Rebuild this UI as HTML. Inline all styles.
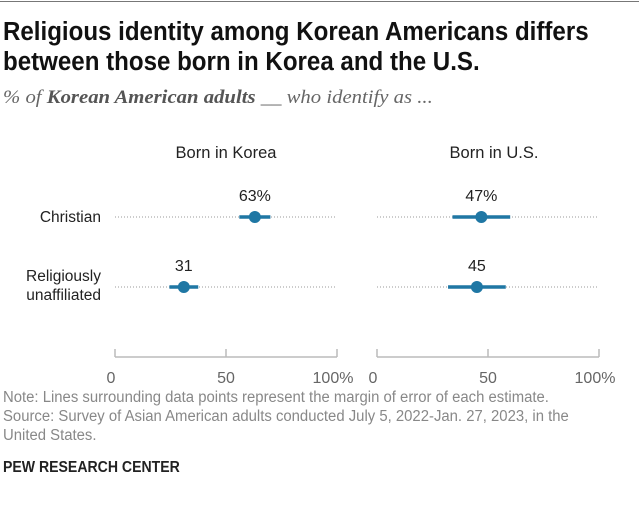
<!DOCTYPE html>
<html><head><meta charset="utf-8"><style>
body{margin:0;background:#fff;width:639px;height:505px;overflow:hidden;font-family:"Liberation Sans",sans-serif;position:relative}
.t{position:absolute;white-space:nowrap;transform-origin:0 0}
</style></head><body>
<div style="position:absolute;left:0;top:1px;width:639px;height:1px;background:#777"></div>
<div class="t" style="left:3px;top:17px;transform:scaleX(0.945);font-weight:bold;font-size:25.5px;line-height:30px;color:#111">Religious identity among Korean Americans differs<br>between those born in Korea and the U.S.</div>
<div class="t" style="left:3px;top:88px;transform:scaleX(1.12);font-family:'Liberation Serif',serif;font-style:italic;font-size:18.5px;color:#666">% of <b style="color:#555">Korean American adults</b> __ who identify as ...</div>
<svg width="639" height="505" style="position:absolute;left:0;top:0" font-family="Liberation Sans, sans-serif">
<g id="g"></g>
</svg>
<div class="t" style="left:3px;top:388px;transform:scaleX(0.96);font-size:15.5px;line-height:19px;color:#888">Note: Lines surrounding data points represent the margin of error of each estimate.<br>Source: Survey of Asian American adults conducted July 5, 2022-Jan. 27, 2023, in the<br>United States.</div>
<div class="t" style="left:3px;top:459px;transform:scaleX(0.88);font-size:16px;font-weight:bold;color:#222">PEW RESEARCH CENTER</div>
<script>
const categories=["Christian","Religiously unaffiliated"];
const panels=["Born in Korea","Born in U.S."];
const korea=[63,31];
const us=[47,45];
const koreaMoe=[7,6.5];
const usMoe=[13,13];
const labelsKorea=["63%","31"];
const labelsUs=["47%","45"];
const ticks=[0,50,100];
const tickLabels=["0","50","100%"];
const NS="http://www.w3.org/2000/svg";
const g=document.getElementById('g');
function el(t,a,txt){const e=document.createElementNS(NS,t);for(const k in a)e.setAttribute(k,a[k]);if(txt!=null)e.textContent=txt;g.appendChild(e);return e;}
const panelX=[115,377],W=222;
const titleX=[226,494];
const rowY=[217,287];
const axisY=357;
const vals=[korea,us],moes=[koreaMoe,usMoe],labs=[labelsKorea,labelsUs];
panels.forEach((p,pi)=>{
  const x=v=>panelX[pi]+v/100*W;
  const h=el('text',{x:titleX[pi],y:158,'text-anchor':'middle','font-size':16.5,fill:'#222'},p);
  
  
  const ax=el('line',{x1:x(0),x2:x(100),y1:axisY,y2:axisY,stroke:'#bbb','stroke-width':1.5});
  
  
  ticks.forEach((t,ti)=>{
    el('line',{x1:x(t),x2:x(t),y1:axisY-8,y2:axisY,stroke:'#bbb','stroke-width':1.5});
    const tl=el('text',{x:x(t)+(ti==2?-4:(ti==0?-4:0)),y:axisY+26,'text-anchor':'middle','font-size':16,fill:'#666'},tickLabels[ti]);
    
    
  });
  categories.forEach((c,ci)=>{
    const y=rowY[ci],v=vals[pi][ci],m=moes[pi][ci];
    el('line',{x1:x(0),x2:x(100),y1:y,y2:y,stroke:'#999','stroke-width':1,'stroke-dasharray':'1 2'});
    const b=el('line',{x1:x(v-m),x2:x(v+m),y1:y,y2:y,stroke:'#1f77a4','stroke-width':3.5});
    
    
    const d=el('circle',{cx:x(v),cy:y,r:6,fill:'#1f77a4'});
    
    
    const l=el('text',{x:x(v),y:y-16,'text-anchor':'middle','font-size':16,fill:'#222'},labs[pi][ci]);
    
    
  });
});
const c1=el('text',{x:101,y:222,'text-anchor':'end','font-size':15.5,fill:'#222'},"Christian");


const c2=el('text',{x:101,y:281,'text-anchor':'end','font-size':15.5,fill:'#222'},"Religiously");


const c3=el('text',{x:101,y:300,'text-anchor':'end','font-size':15.5,fill:'#222'},"unaffiliated");


</script>
</body></html>
